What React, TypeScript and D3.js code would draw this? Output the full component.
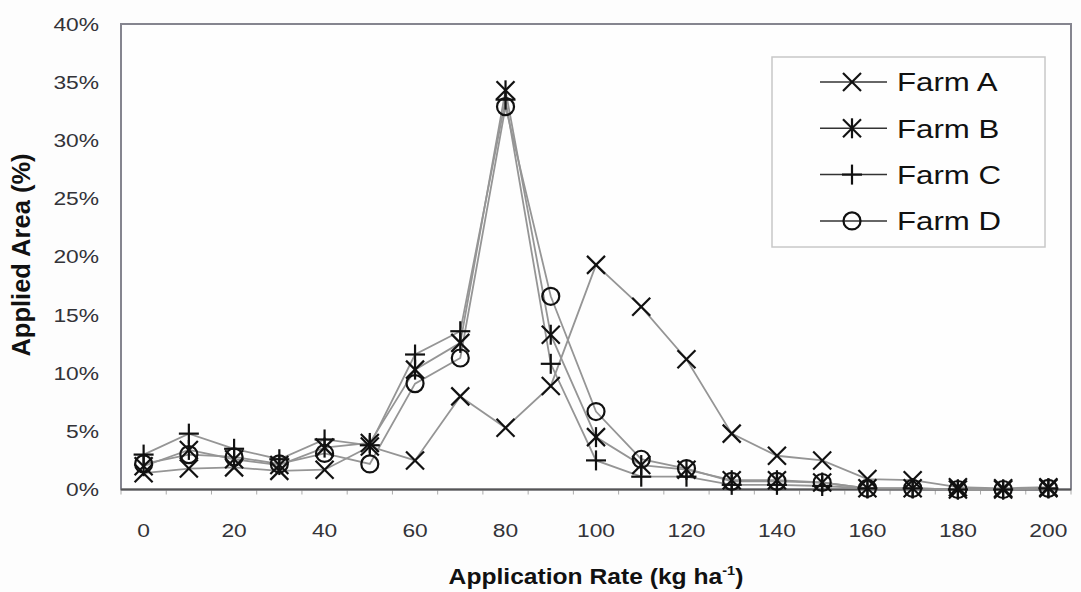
import React from "react";
import * as d3 from "d3";

const rates = [0, 10, 20, 30, 40, 50, 60, 70, 80, 90, 100, 110, 120, 130, 140, 150, 160, 170, 180, 190, 200];
const farmA = [1.4, 1.8, 1.9, 1.6, 1.7, 3.7, 2.5, 8.0, 5.3, 8.9, 19.3, 15.7, 11.2, 4.8, 2.9, 2.5, 0.9, 0.8, 0.2, 0.1, 0.2];
const farmB = [2.0, 3.4, 2.6, 2.1, 3.6, 4.0, 10.3, 12.6, 34.3, 13.3, 4.5, 2.1, 1.7, 0.8, 0.8, 0.6, 0.1, 0.1, 0.0, 0.0, 0.1];
const farmC = [3.0, 4.8, 3.5, 2.6, 4.3, 3.8, 11.6, 13.6, 33.5, 10.8, 2.5, 1.1, 1.1, 0.4, 0.4, 0.3, 0.1, 0.1, 0.0, 0.0, 0.1];
const farmD = [2.2, 3.0, 2.8, 2.2, 3.1, 2.2, 9.1, 11.3, 32.9, 16.6, 6.7, 2.6, 1.8, 0.7, 0.7, 0.6, 0.1, 0.1, 0.0, 0.0, 0.1];
const seriesNames = ["Farm A", "Farm B", "Farm C", "Farm D"];
const markerTypes = ["x", "asterisk", "plus", "circle"];
const yTicks = [0, 5, 10, 15, 20, 25, 30, 35, 40];
const xLabelRates = [0, 20, 40, 60, 80, 100, 120, 140, 160, 180, 200];

const W = 1081;
const H = 592;
const plot = { left: 121, right: 1071, top: 24, bottom: 489.5 };
const TEXT = "#333338";
const FONT = "Arial, 'Liberation Sans', Helvetica, sans-serif";

function Marker({ type, cx, cy }: { type: string; cx: number; cy: number }) {
  const s = 9;
  const st = { stroke: "#111", strokeWidth: 2.2, fill: "none" } as const;
  if (type === "x") {
    return (
      <g {...st}>
        <line x1={cx - s} y1={cy - s} x2={cx + s} y2={cy + s} />
        <line x1={cx - s} y1={cy + s} x2={cx + s} y2={cy - s} />
      </g>
    );
  }
  if (type === "asterisk") {
    return (
      <g {...st}>
        <line x1={cx - s} y1={cy - s} x2={cx + s} y2={cy + s} />
        <line x1={cx - s} y1={cy + s} x2={cx + s} y2={cy - s} />
        <line x1={cx} y1={cy - s - 1} x2={cx} y2={cy + s + 1} />
      </g>
    );
  }
  if (type === "plus") {
    return (
      <g {...st}>
        <line x1={cx - s - 1} y1={cy} x2={cx + s + 1} y2={cy} />
        <line x1={cx} y1={cy - s - 1} x2={cx} y2={cy + s + 1} />
      </g>
    );
  }
  return <circle cx={cx} cy={cy} r={8.5} {...st} />;
}

export default function App() {
  const data = [farmA, farmB, farmC, farmD];
  const x = d3
    .scaleBand<string>()
    .domain(rates.map(String))
    .range([plot.left, plot.right])
    .padding(0);
  const y = d3.scaleLinear().domain([0, 40]).range([plot.bottom, plot.top]);
  const cx = (r: number) => (x(String(r)) as number) + x.bandwidth() / 2;

  const line = d3
    .line<number>()
    .x((_, i) => cx(rates[i]))
    .y((v) => y(v));

  const boundaries = d3.range(rates.length + 1).map((i) => plot.left + i * x.bandwidth());

  const legend = { x: 772, y: 57, w: 273, h: 190 };
  const legendRowY = (i: number) => 82 + i * 46.3;

  return (
    <svg
      width={W}
      height={H}
      style={{ position: "absolute", left: 0, top: 0, display: "block", background: "#fdfdfd" }}
      fontFamily={FONT}
    >
      <rect x={0} y={0} width={W} height={H} fill="#fdfdfd" />
      <rect
        x={plot.left}
        y={plot.top}
        width={plot.right - plot.left}
        height={plot.bottom - plot.top}
        fill="#fefefe"
        stroke="#85858f"
        strokeWidth={2}
      />
      {boundaries.map((bx, i) => (
        <line key={i} x1={bx} x2={bx} y1={plot.bottom} y2={plot.bottom + 5} stroke="#aaa" strokeWidth={1} />
      ))}
      <line x1={plot.left} x2={plot.right} y1={plot.bottom} y2={plot.bottom} stroke="#555" strokeWidth={2} />

      {data.map((vals, si) => (
        <path key={si} d={line(vals) || ""} fill="none" stroke="#959595" strokeWidth={1.8} />
      ))}
      {data.map((vals, si) =>
        vals.map((v, i) => <Marker key={`${si}-${i}`} type={markerTypes[si]} cx={cx(rates[i])} cy={y(v)} />)
      )}

      {yTicks.map((t) => (
        <g key={t} transform={`translate(99,${y(t)}) scale(1.2,1)`}>
          <text x={0} y={0} dy="0.35em" textAnchor="end" fontSize={19} fill={TEXT}>
            {`${t}%`}
          </text>
        </g>
      ))}
      {xLabelRates.map((r) => (
        <g key={r} transform={`translate(${cx(r)},537) scale(1.2,1)`}>
          <text x={0} y={0} textAnchor="middle" fontSize={19} fill={TEXT}>
            {r}
          </text>
        </g>
      ))}

      <g transform={`translate(596,584) scale(1.12,1)`}>
        <text x={0} y={0} textAnchor="middle" fontSize={22} fontWeight="bold" fill="#111">
          Application Rate (kg ha
          <tspan fontSize={13} dy={-9}>-1</tspan>
          <tspan dy={9}>)</tspan>
        </text>
      </g>
      <g transform={`translate(30,255) rotate(-90) scale(1.16,1.15)`}>
        <text x={0} y={0} textAnchor="middle" fontSize={22} fontWeight="bold" fill="#111">
          Applied Area (%)
        </text>
      </g>

      <rect x={legend.x} y={legend.y} width={legend.w} height={legend.h} fill="#fefefe" stroke="#c8c8c8" strokeWidth={1.5} />
      {seriesNames.map((name, i) => {
        const ly = legendRowY(i);
        return (
          <g key={name}>
            <line x1={820} x2={887} y1={ly} y2={ly} stroke="#333" strokeWidth={1.5} />
            <Marker type={markerTypes[i]} cx={852} cy={ly} />
            <g transform={`translate(897,${ly}) scale(1.2,1)`}>
              <text x={0} y={0} dy="0.36em" fontSize={26} fill="#111">
                {name}
              </text>
            </g>
          </g>
        );
      })}
    </svg>
  );
}
